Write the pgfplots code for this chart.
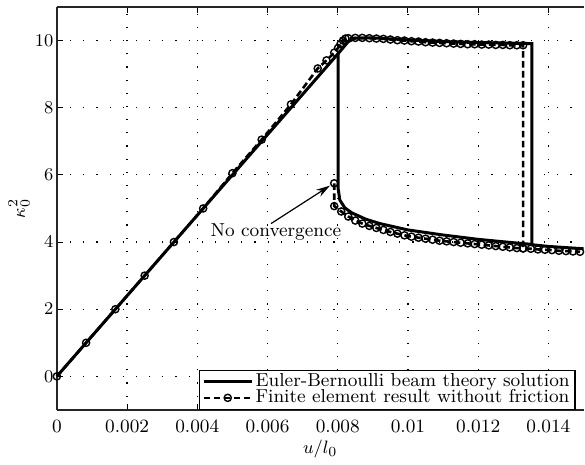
\documentclass[border=0pt]{standalone}
\usepackage{pgfplots}
\pgfplotsset{compat=1.18}
\usetikzlibrary{arrows.meta}

\begin{document}
\begin{tikzpicture}[font=\fontsize{9.4}{11}\selectfont]
\begin{axis}[
  scale only axis, width=264pt, height=202pt,
  xmin=0, xmax=0.015, ymin=-1, ymax=11,
  axis x line*=box, axis y line*=left,
  xtick={0,0.002,0.004,0.006,0.008,0.01,0.012,0.014},
  xticklabels={0,0.002,0.004,0.006,0.008,0.01,0.012,0.014},
  ytick={0,2,4,6,8,10},
  scaled x ticks=false,
  tick align=inside, major tick length=3pt,
  tick style={black, line width=0.5pt},
  axis line style={line width=0.8pt, black!85},
  xticklabel style={yshift=-1.5pt},
  yticklabel style={xshift=1.8pt},
  grid=major, grid style={black, line width=0.6pt, dash pattern=on 0.6pt off 6pt},
  clip=false,
  legend style={at={(0.985,0.0)}, anchor=south east, draw=black, line width=0.6pt,
    inner xsep=1.5pt, inner ysep=0.5pt, row sep=-2.5pt, nodes={inner sep=1.2pt}, cells={anchor=west}},
  legend image code/.code={\draw[mark repeat=2,mark phase=2,#1] plot coordinates {(0pt,0pt) (12pt,0pt) (24pt,0pt)};},
]
% Euler-Bernoulli solution
\addplot[black, line width=1.5pt] coordinates {
  (0,0) (0.00801,9.61) (0.0083,9.97) (0.0085,10.07) (0.009,10.08) (0.0095,10.05)
  (0.010,10.02) (0.011,9.97) (0.012,9.94) (0.013,9.92) (0.01353,9.91)
  (0.01353,3.92) (0.014,3.87) (0.015,3.80)
};
\addlegendentry{Euler-Bernoulli beam theory solution}
\addplot[black, line width=1.5pt, forget plot] coordinates {
  (0.00801,9.61) (0.00801,5.6) (0.00806,5.25) (0.0082,5.02) (0.0084,4.87)
  (0.0088,4.68) (0.0092,4.55) (0.010,4.36) (0.011,4.21) (0.012,4.08)
  (0.013,3.98) (0.01353,3.93)
};
% finite element, loading branch
\addplot[black, line width=1.3pt, dash pattern=on 3.3pt off 1.7pt,
  mark=o, mark size=1.8pt, mark options={solid, fill=white, line width=0.7pt}] coordinates {
  (0,0) (0.000833,1) (0.001667,2) (0.0025,3) (0.003333,4) (0.004167,5)
  (0.005,6.05) (0.005833,7.05) (0.006667,8.1) (0.00743,9.17) (0.00768,9.41)
  (0.0079,9.64) (0.00801,9.78) (0.00808,9.9) (0.00815,10.0) (0.00822,10.06)
  (0.0083,10.07) (0.0085,10.08) (0.0087,10.08) (0.0089,10.07) (0.0091,10.06)
  (0.0093,10.05) (0.0095,10.03) (0.0097,10.01) (0.0099,10.00) (0.0101,9.98)
  (0.0103,9.97) (0.0105,9.95) (0.0107,9.94) (0.0109,9.93) (0.0111,9.92)
  (0.0113,9.91) (0.0115,9.90) (0.0117,9.89) (0.0119,9.89) (0.0121,9.88)
  (0.0123,9.88) (0.0125,9.87) (0.0127,9.87) (0.0129,9.86) (0.0131,9.86)
  (0.01328,9.86) (0.01328,3.81) (0.0135,3.80) (0.0137,3.78) (0.0139,3.77)
  (0.0141,3.76) (0.0143,3.74) (0.0145,3.73) (0.0147,3.72) (0.0149,3.71)
};
\addlegendentry{Finite element result without friction}
% finite element, unloading branch
\addplot[black, line width=1.3pt, dash pattern=on 3.3pt off 1.7pt, forget plot,
  mark=o, mark size=1.8pt, mark options={solid, fill=white, line width=0.7pt}] coordinates {
  (0.0079,5.75) (0.0079,5.07) (0.0081,4.91) (0.0083,4.76) (0.0085,4.64)
  (0.0087,4.55) (0.0089,4.48) (0.0091,4.42) (0.0093,4.36) (0.0095,4.30)
  (0.0097,4.25) (0.0099,4.20) (0.0101,4.16) (0.0103,4.13) (0.0105,4.10)
  (0.0107,4.07) (0.0109,4.04) (0.0111,4.02) (0.0113,4.00) (0.0115,3.98)
  (0.0117,3.96) (0.0119,3.94) (0.0121,3.92) (0.0123,3.90) (0.0125,3.88)
  (0.0127,3.86) (0.0129,3.84) (0.0131,3.82) (0.01328,3.81)
};
\node at (axis cs:0.00624,4.3) {No convergence};
\draw[-{Stealth[length=7pt,width=4pt]}, line width=0.6pt] (axis cs:0.0061,4.55) -- (axis cs:0.00778,5.68);
% axis labels
\node at ([yshift=-19.5pt]current axis.south) {$u/l_0$};
\node[rotate=90] at ([xshift=-19pt]current axis.west) {$\kappa_0^2$};
\end{axis}
\path ([xshift=-28.5pt,yshift=3.5pt]current axis.north west) ([yshift=-27pt]current axis.south east);
\end{tikzpicture}
\end{document}
